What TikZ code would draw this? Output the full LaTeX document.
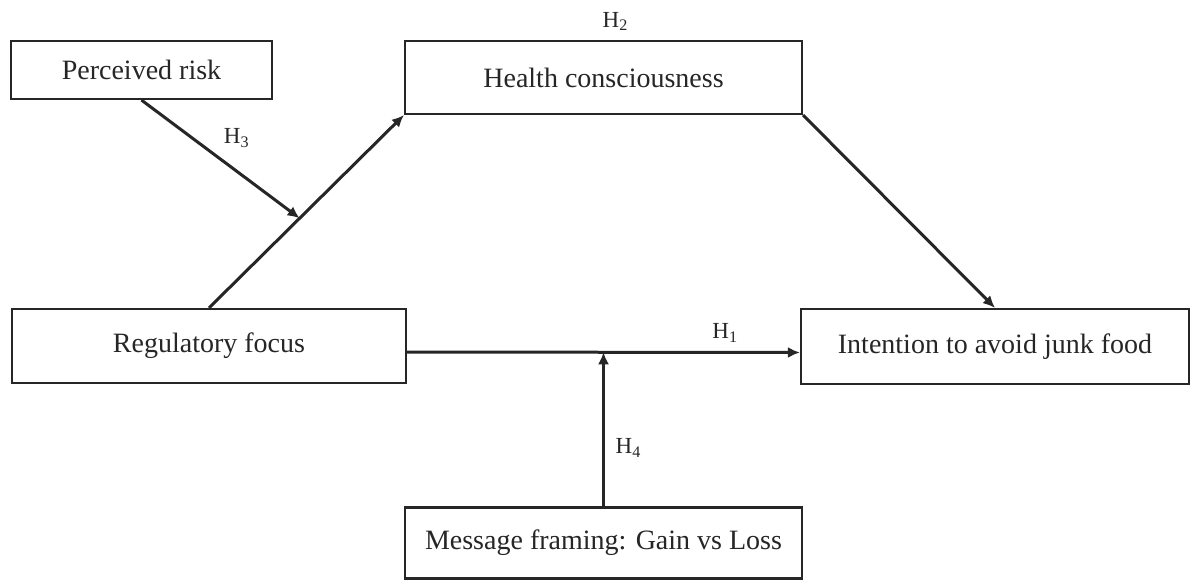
\documentclass[tikz,border=0pt]{standalone}
\usepackage{fontspec}
\setmainfont{Liberation Serif}
\usetikzlibrary{arrows.meta,positioning}

\begin{document}
\begin{tikzpicture}[
  x=0.5pt,y=-0.5pt,
  box/.style={
    draw,
    line width=1.1pt,
    black!85,
    text=black!85,
    inner sep=0pt,
    font=\fontsize{14}{16}\selectfont
  },
  link/.style={line width=1.5pt,black!85,-{Latex[length=6pt,width=5.5pt]}},
  hyp/.style={font=\fontsize{11.5}{13}\selectfont,text=black!85}
]
  \useasboundingbox[fill=white] (0,0) rectangle (1190,579);

  % Constructs of the model
  \node[box,minimum width=130.5pt,minimum height=29pt] (risk) at (141.5,70) {Perceived risk};
  \node[box,minimum width=198.5pt,minimum height=36.5pt] (health) at (603.5,77.5) {Health consciousness};
  \node[box,minimum width=197pt,minimum height=37pt] (focus) at (209,346) {Regulatory focus};
  \node[box,minimum width=194pt,minimum height=37.5pt] (intent) at (995,346.5) {Intention to avoid junk food};
  \node[box,minimum width=198.5pt,minimum height=35.5pt] (framing) at (603.5,543) {Message framing: Gain vs Loss};

  % Paths: mediation, direct effect and the two moderators
  \draw[link] (focus.north) -- coordinate[pos=0.465] (mod3) (health.south west);
  \draw[link] (health.south east) -- (intent.north);
  \node[hyp,above=1pt of health.north,xshift=6pt] (h2) {H\textsubscript{2}};
  \draw[link] ([yshift=-3pt]focus.east) -- coordinate[pos=0.5] (mod4)
    node[hyp,pos=0.81,above=1pt] (h1) {H\textsubscript{1}} ([yshift=-3pt]intent.west);
  \draw[link] (risk.south) -- node[hyp,pos=0.47,above right] (h3) {H\textsubscript{3}} (mod3);
  \draw[link] (framing.north) -- node[hyp,pos=0.38,right=2pt] (h4) {H\textsubscript{4}} (mod4);
\end{tikzpicture}
\end{document}
